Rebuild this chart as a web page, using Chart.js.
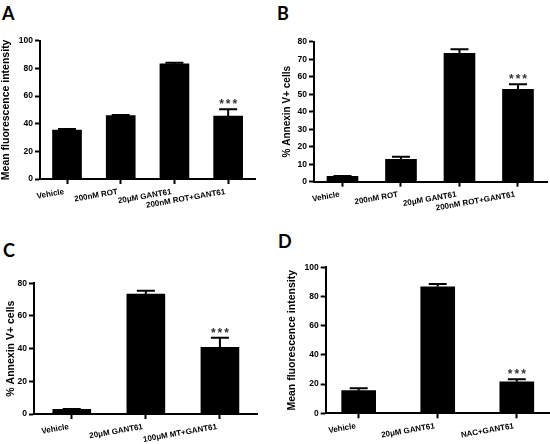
<!DOCTYPE html>
<html><head><meta charset="utf-8">
<script src="https://cdn.jsdelivr.net/npm/chart.js@4.4.1/dist/chart.umd.min.js"></script>
<style>
html,body{margin:0;padding:0;background:#fff;width:550px;height:444px;overflow:hidden;position:relative;}
.panel{position:absolute;}
.letter{position:absolute;font-family:Lato,'Liberation Sans',sans-serif;font-weight:bold;font-size:18px;line-height:18px;color:#000;}
</style></head><body>
<div class="letter" style="left:2px;top:4px">A</div>
<div class="letter" style="left:277px;top:4px">B</div>
<div class="letter" style="left:3px;top:241px">C</div>
<div class="letter" style="left:278px;top:232px">D</div>
<div class="panel" style="left:0;top:0"><canvas id="cA" width="275" height="222"></canvas></div>
<div class="panel" style="left:275px;top:0"><canvas id="cB" width="275" height="222"></canvas></div>
<div class="panel" style="left:0;top:222px"><canvas id="cC" width="275" height="222"></canvas></div>
<div class="panel" style="left:275px;top:222px"><canvas id="cD" width="275" height="222"></canvas></div>
<script>
// ---- data ----
const catsA = ['Vehicle', '200nM ROT', '20μM GANT61', '200nM ROT+GANT61'];
const meanA = [35.4, 45.8, 83.2, 45.5];
const errA  = [0.7, 0.5, 0.9, 4.9];
const sigA  = ['', '', '', '***'];
const yTicksA = [0, 20, 40, 60, 80, 100];

const catsB = ['Vehicle', '200nM ROT', '20μM GANT61', '200nM ROT+GANT61'];
const meanB = [3.0, 12.8, 73.4, 52.8];
const errB  = [0.2, 1.4, 2.3, 2.9];
const sigB  = ['', '', '', '***'];
const yTicksB = [0, 10, 20, 30, 40, 50, 60, 70, 80];

const catsC = ['Vehicle', '20μM GANT61', '100μM MT+GANT61'];
const meanC = [2.9, 73.4, 40.8];
const errC  = [0.2, 2.1, 5.9];
const sigC  = ['', '', '***'];
const yTicksC = [0, 20, 40, 60, 80];

const catsD = ['Vehicle', '20μM GANT61', 'NAC+GANT61'];
const meanD = [15.5, 86.7, 21.6];
const errD  = [1.6, 1.9, 1.7];
const sigD  = ['', '', '***'];
const yTicksD = [0, 20, 40, 60, 80, 100];

// ---- font detection ----
function hasFont(name){
  const c = document.createElement('canvas').getContext('2d');
  c.font = 'bold 20px monospace';
  const w0 = c.measureText('Vehicle GANT61').width;
  c.font = 'bold 20px "' + name + '", monospace';
  return Math.abs(c.measureText('Vehicle GANT61').width - w0) > 0.5;
}
const narrow = hasFont('Liberation Sans Narrow');
const hFam = narrow ? '"Liberation Sans Narrow"' : '"Liberation Sans"';
const xTickSize = narrow ? 9.5 : 8;
const yTickSize = narrow ? 10 : 8.5;

const errPlugin = {
  id: 'errbars',
  afterDatasetsDraw(chart) {
    const ctx = chart.ctx;
    const ds = chart.data.datasets[0];
    const meta = chart.getDatasetMeta(0);
    const ys = chart.scales.y;
    ctx.save();
    meta.data.forEach((bar, i) => {
      const m = ds.data[i].y, e = ds.errs[i];
      const yTop = ys.getPixelForValue(m), yCap = ys.getPixelForValue(m + e);
      ctx.strokeStyle = '#000'; ctx.lineWidth = 2;
      ctx.beginPath();
      ctx.moveTo(bar.x, yTop); ctx.lineTo(bar.x, yCap);
      ctx.moveTo(bar.x - 9, yCap); ctx.lineTo(bar.x + 9, yCap);
      ctx.stroke();
      if (ds.sigs[i]) {
        ctx.fillStyle = '#333';
        ctx.font = 'bold 12px "Liberation Sans", Arial, sans-serif';
        ctx.textAlign = 'center';
        ctx.textBaseline = 'alphabetic';
        try { ctx.letterSpacing = '2px'; } catch (err) {}
        ctx.fillText(ds.sigs[i], bar.x + 1, yCap - 1);
      }
    });
    ctx.restore();
  }
};

function makeChart(id, cats, means, errs, sigs, yTicks, title, cfg) {
  new Chart(document.getElementById(id), {
    type: 'bar',
    data: { datasets: [{
      data: means.map((v, i) => ({ x: i, y: v })),
      backgroundColor: '#000', borderWidth: 0, barThickness: cfg.barW,
      errs: errs, sigs: sigs
    }] },
    options: {
      responsive: false, animation: false, events: [],
      layout: { padding: { top: cfg.padTop, right: cfg.padRight, left: 0, bottom: 0 } },
      plugins: { legend: { display: false }, tooltip: { enabled: false } },
      scales: {
        x: {
          type: 'linear', min: cfg.xMin, max: cfg.xMax, offset: false,
          afterBuildTicks: s => { s.ticks = cats.map((c, i) => ({ value: i })); },
          afterFit: s => { s.height = cfg.xH; },
          ticks: { autoSkip: false, minRotation: 10, maxRotation: 10, color: '#000', padding: 3, labelOffset: -3,
                   font: { family: hFam, weight: 'bold', size: xTickSize },
                   callback: v => cats[v] },
          grid: { display: true, drawOnChartArea: false, drawTicks: true, tickLength: 5, tickWidth: 2, tickColor: '#000', offset: false },
          border: { display: true, color: '#000', width: 2 }
        },
        y: {
          min: 0, max: yTicks[yTicks.length - 1],
          afterBuildTicks: s => { s.ticks = yTicks.map(v => ({ value: v })); },
          afterFit: s => { s.width = cfg.yW; },
          title: { display: true, text: title, color: '#000', padding: { top: cfg.titlePad, bottom: 0 },
                   font: { family: '"Liberation Sans", Arial, sans-serif', weight: 'bold', size: cfg.titleSize } },
          ticks: { color: '#000', padding: 2, font: { family: hFam, weight: 'bold', size: yTickSize } },
          grid: { display: true, drawOnChartArea: false, drawTicks: true, tickLength: 5, tickWidth: 2, tickColor: '#000' },
          border: { display: true, color: '#000', width: 2 }
        }
      }
    },
    plugins: [errPlugin]
  });
}

makeChart('cA', catsA, meanA, errA, sigA, yTicksA, 'Mean fluorescence intensity',
  { padTop: 40.7, padRight: 20, xH: 43, yW: 40, xMin: -0.503, xMax: 3.5, barW: 29, titlePad: 0, titleSize: 10.5 });
makeChart('cB', catsB, meanB, errB, sigB, yTicksB, '% Annexin V+ cells',
  { padTop: 41.7, padRight: 3, xH: 40.3, yW: 39, xMin: -0.487, xMax: 3.496, barW: 31, titlePad: 6.7, titleSize: 10 });
makeChart('cC', catsC, meanC, errC, sigC, yTicksC, '% Annexin V+ cells',
  { padTop: 61.3, padRight: 17.3, xH: 30, yW: 34, xMin: -0.51, xMax: 2.51, barW: 38, titlePad: 4.7, titleSize: 10.5 });
makeChart('cD', catsD, meanD, errD, sigD, yTicksD, 'Mean fluorescence intensity',
  { padTop: 45.3, padRight: 0, xH: 30.7, yW: 50.7, xMin: -0.417, xMax: 2.42, barW: 34, titlePad: 11.2, titleSize: 10.5 });
</script>
</body></html>
